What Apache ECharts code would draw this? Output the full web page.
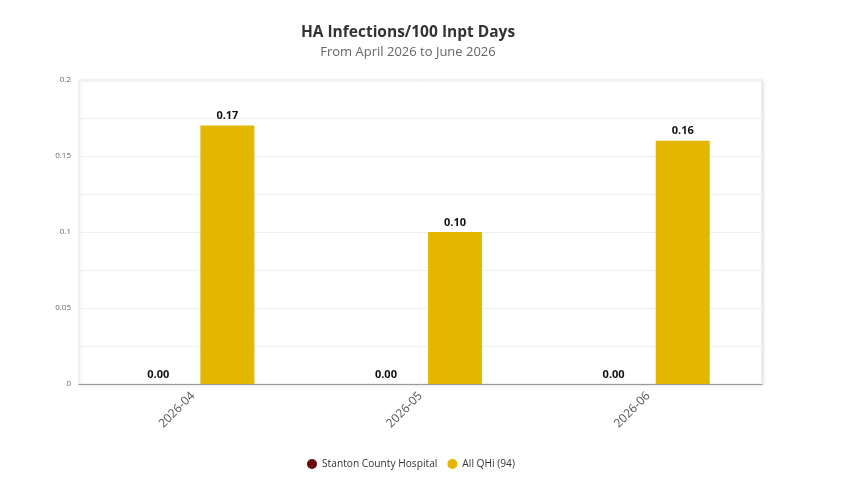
<!DOCTYPE html>
<html>
<head>
<meta charset="utf-8">
<script src="https://cdn.jsdelivr.net/npm/echarts@6/dist/echarts.min.js"></script>
<style>
  html, body {margin: 0; padding: 0; background: #fff;}
  #chart {width: 841px; height: 491px;}
</style>
</head>
<body>
<div id="chart"></div>
<script>
var months = ['2026-04', '2026-05', '2026-06'];
var hospitalValues = [0, 0, 0];
var allQhiValues = [0.17, 0.10, 0.16];
var seriesNames = ['Stanton County Hospital', 'All QHi (94)'];

var chart = echarts.init(document.getElementById('chart'));

var labelStyle = {
    show: true,
    position: 'top',
    distance: 4,
    fontFamily: 'Open Sans',
    fontWeight: 'bold',
    fontSize: 11,
    color: '#111',
    formatter: function (p) { return p.value.toFixed(2); }
};

chart.setOption({
    animation: false,
    textStyle: {fontFamily: 'Open Sans'},
    title: {
        text: 'HA Infections/100 Inpt Days',
        subtext: 'From April 2026 to June 2026',
        left: 403,
        textAlign: 'center',
        top: 20,
        itemGap: 5,
        textStyle: {fontFamily: 'Open Sans', fontSize: 15.5, fontWeight: 'bold', color: '#333'},
        subtextStyle: {fontFamily: 'Open Sans', fontSize: 13, color: '#666'}
    },
    legend: {
        data: seriesNames,
        bottom: 17,
        left: 302,
        icon: 'circle',
        itemWidth: 10,
        itemHeight: 10,
        itemGap: 10,
        textStyle: {fontFamily: 'Open Sans', fontSize: 10.2, color: '#333'}
    },
    grid: {
        left: 79, right: 79, top: 80, bottom: 107,
        show: true,
        borderColor: '#e8e8e8',
        borderWidth: 1,
        backgroundColor: '#fff',
        shadowColor: 'rgba(0,0,0,0.12)',
        shadowBlur: 3,
        shadowOffsetX: 1,
        shadowOffsetY: 1
    },
    xAxis: {
        type: 'category',
        data: months,
        axisTick: {show: false},
        axisLine: {lineStyle: {color: '#999', width: 1}},
        axisLabel: {rotate: 45, fontSize: 12, color: '#555', margin: 10}
    },
    yAxis: {
        type: 'value',
        min: 0,
        max: 0.2,
        interval: 0.025,
        axisLine: {show: false},
        axisTick: {show: false},
        splitLine: {lineStyle: {color: '#efefef'}},
        axisLabel: {
            fontSize: 8,
            color: '#666',
            margin: 8,
            formatter: function (v) {
                var r = Math.round(v * 1000);
                return r % 50 === 0 ? String(+v.toFixed(3)) : '';
            }
        }
    },
    series: [
        {
            name: seriesNames[0],
            type: 'bar',
            data: hospitalValues,
            barWidth: 54,
            barGap: '28%',
            itemStyle: {color: '#6b0a0a'},
            label: labelStyle
        },
        {
            name: seriesNames[1],
            type: 'bar',
            data: allQhiValues,
            barWidth: 54,
            itemStyle: {color: '#e3b600'},
            label: labelStyle
        }
    ]
});
</script>
</body>
</html>
